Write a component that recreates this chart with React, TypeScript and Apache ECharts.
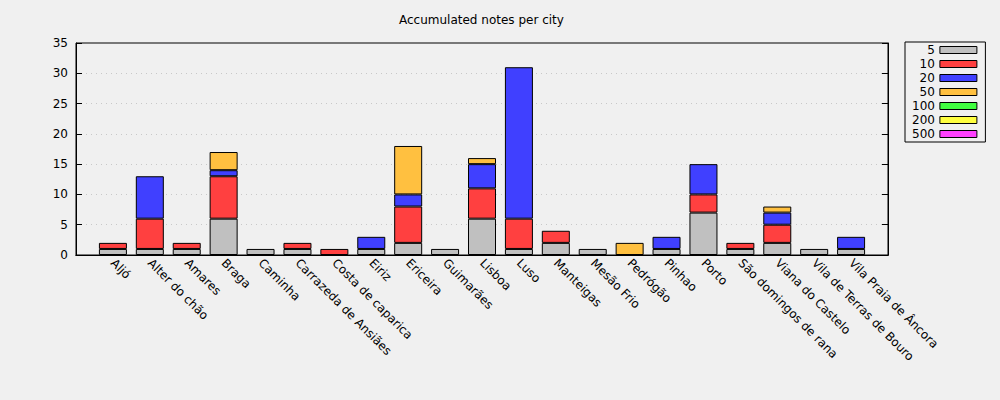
import React, { useEffect, useRef } from "react";
import * as echarts from "echarts";

const cities = [
  "Aljó", "Alter do chão", "Amares", "Braga", "Caminha", "Carrazeda de Ansiães",
  "Costa de caparica", "Eiriz", "Ericeira", "Guimarães", "Lisboa", "Luso",
  "Manteigas", "Mesão Frio", "Pedrógão", "Pinhao", "Porto", "São domingos de rana",
  "Viana do Castelo", "Vila de Terras de Bouro", "Vila Praia de Âncora",
];

const notes5 = [1, 1, 1, 6, 1, 1, 0, 1, 2, 1, 6, 1, 2, 1, 0, 1, 7, 1, 2, 1, 1];
const notes10 = [1, 5, 1, 7, 0, 1, 1, 0, 6, 0, 5, 5, 2, 0, 0, 0, 3, 1, 3, 0, 0];
const notes20 = [0, 7, 0, 1, 0, 0, 0, 2, 2, 0, 4, 25, 0, 0, 0, 2, 5, 0, 2, 0, 2];
const notes50 = [0, 0, 0, 3, 0, 0, 0, 0, 8, 0, 1, 0, 0, 0, 2, 0, 0, 0, 1, 0, 0];
const notes100 = [0, 0, 0, 0, 0, 0, 0, 0, 0, 0, 0, 0, 0, 0, 0, 0, 0, 0, 0, 0, 0];
const notes200 = [0, 0, 0, 0, 0, 0, 0, 0, 0, 0, 0, 0, 0, 0, 0, 0, 0, 0, 0, 0, 0];
const notes500 = [0, 0, 0, 0, 0, 0, 0, 0, 0, 0, 0, 0, 0, 0, 0, 0, 0, 0, 0, 0, 0];

const seriesNames = ["5", "10", "20", "50", "100", "200", "500"];
const seriesValues = [notes5, notes10, notes20, notes50, notes100, notes200, notes500];
const seriesColors = ["#c0c0c0", "#ff4040", "#4040ff", "#ffc040", "#40ff40", "#ffff40", "#ff40ff"];

const yTicks = { min: 0, max: 35, interval: 5 };
const titleText = "Accumulated notes per city";

const FONT = "DejaVu Sans";

export default function App() {
  const ref = useRef<HTMLDivElement>(null);
  useEffect(() => {
    if (!ref.current) return;
    const chart = echarts.init(ref.current, null, { renderer: "svg" });
    const cats = ["", ...cities, ""];
    const series = seriesNames.map((name, i) => ({
      name,
      type: "bar",
      stack: "total",
      barWidth: 28,
      data: [null, ...seriesValues[i].map((v) => (v === 0 ? null : v)), null],
      itemStyle: { color: seriesColors[i], borderColor: "#000", borderWidth: 1 },
      emphasis: { disabled: true },
    }));
    const yCommon = {
      type: "value",
      min: yTicks.min,
      max: yTicks.max,
      interval: yTicks.interval,
      axisLine: { show: true, lineStyle: { color: "#000", width: 1 } },
      axisTick: { show: true, inside: true, length: 6, lineStyle: { color: "#000" } },
    };
    chart.setOption({
      animation: false,
      backgroundColor: "#f0f0f0",
      textStyle: { fontFamily: FONT },
      title: {
        text: titleText,
        left: 399,
        top: 14,
        padding: 0,
        textStyle: { fontSize: 12, fontWeight: "normal", color: "#000", fontFamily: FONT },
      },
      legend: {
        orient: "vertical",
        left: 905,
        top: 42,
        align: "right",
        itemWidth: 37,
        itemHeight: 7,
        itemGap: 0,
        padding: [1, 8, 1, 7],
        borderColor: "#000",
        borderWidth: 1,
        icon: "rect",
        selectedMode: false,
        itemStyle: { borderColor: "#000", borderWidth: 1 },
        textStyle: { fontSize: 12, color: "#000", fontFamily: FONT, lineHeight: 14 },
        data: seriesNames,
      },
      grid: {
        left: 76,
        right: 112,
        top: 43,
        bottom: 145,
        show: true,
        borderColor: "#000",
        borderWidth: 1,
        backgroundColor: "transparent",
      },
      xAxis: [
        {
          type: "category",
          data: cats,
          boundaryGap: false,
          axisLine: { show: true, lineStyle: { color: "#000" } },
          axisTick: { show: false },
          splitLine: { show: false },
          axisLabel: {
            interval: 0,
            rotate: -45,
            fontSize: 12,
            color: "#000",
            fontFamily: FONT,
            margin: 6,
          },
        },
        {
          type: "category",
          position: "top",
          data: cats,
          boundaryGap: false,
          axisLine: { show: true, lineStyle: { color: "#000" } },
          axisTick: { show: false },
          axisLabel: { show: false },
          splitLine: { show: false },
        },
      ],
      yAxis: [
        {
          ...yCommon,
          position: "left",
          axisLabel: { fontSize: 12, color: "#000", fontFamily: FONT, margin: 8 },
          splitLine: {
            show: true,
            showMinLine: false,
            showMaxLine: false,
            lineStyle: { color: "#c8c8c8", type: [1, 4], width: 1 },
          },
        },
        {
          ...yCommon,
          position: "right",
          axisLabel: { show: false },
          splitLine: { show: false },
        },
      ],
      series,
    });
    return () => chart.dispose();
  }, []);
  return (
    <div
      ref={ref}
      style={{ position: "absolute", left: 0, top: 0, width: 1000, height: 400 }}
    />
  );
}
